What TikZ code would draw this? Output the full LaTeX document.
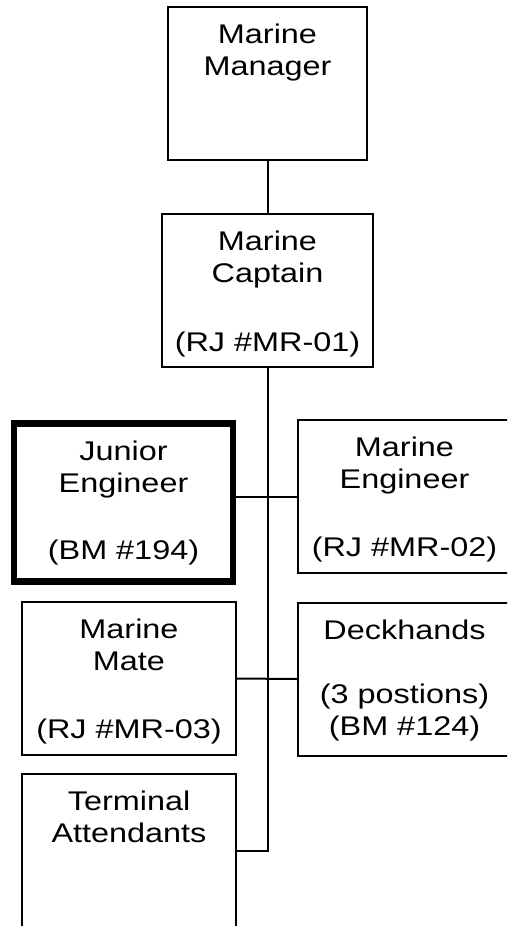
\documentclass[tikz,border=0pt]{standalone}
\usepackage{fontspec}
\setmainfont{Liberation Sans}[FakeStretch=1.2]
\usetikzlibrary{positioning}

\begin{document}
\begin{tikzpicture}[x=1pt, y=-1pt,
    post/.style={draw, line width=2pt, minimum width=212pt, minimum height=153pt, inner sep=0pt},
    keypost/.style={post, line width=6.5pt},
    lbl/.style={anchor=north, align=center, inner sep=0pt, yshift=-18pt, font=\fontsize{27}{32}\selectfont},
    link/.style={line width=2pt}]
    \useasboundingbox (0,0) rectangle (507,926);
    \clip (0,0) rectangle (507,926);

    % Top of the chart
    \node[post, minimum width=199pt, label={[lbl]north:{Marine\\Manager}}] (mgr) at (267.5,83.5) {};
    \node[post, minimum width=211pt, label={[lbl]north:{Marine\\Captain\\[37pt](RJ \#MR-01)}}] (cap) at (267.5,290.5) {};

    % Crew under the captain
    \node[keypost, minimum width=219pt, minimum height=158pt, label={[lbl, yshift=-2pt]north:{Junior\\Engineer\\[35pt](BM \#194)}}] (jun) at (123.5,502.5) {};
    \node[post, minimum width=213pt, label={[lbl]north:{Marine\\Engineer\\[36pt](RJ \#MR-02)}}] (meng) at (404.5,496.5) {};
    \node[post, minimum width=214pt, label={[lbl]north:{Marine\\Mate\\[36pt](RJ \#MR-03)}}] (mate) at (129,678.5) {};
    \node[post, minimum width=213pt, label={[lbl]north:{Deckhands\\[32pt](3 postions)\\(BM \#124)}}] (deck) at (404.5,679) {};
    \node[post, minimum width=214pt, label={[lbl]north:{Terminal\\Attendants}}] (term) at (129,850.5) {};

    % Connectors
    \draw[link] (mgr) -- (cap);
    \draw[link] (cap.south) |- (term.east);
    \draw[link] (meng.west) -- (meng.west -| jun.east);
    \draw[link] (mate.east) -- (deck.west);
\end{tikzpicture}
\end{document}
